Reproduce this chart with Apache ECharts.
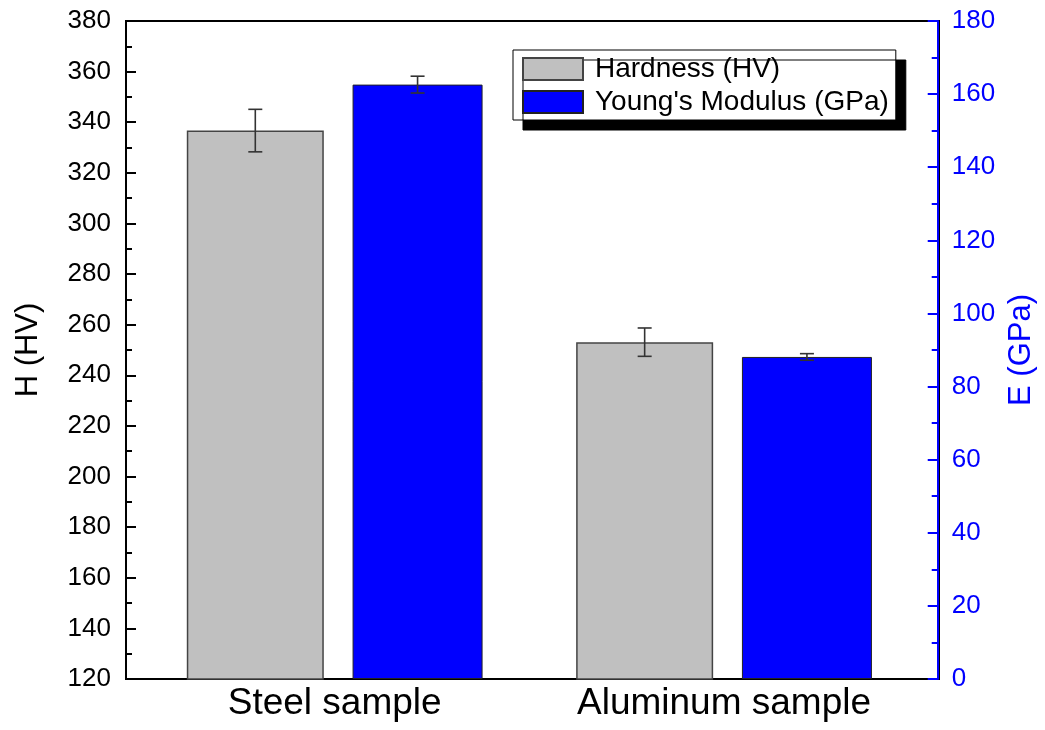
<!DOCTYPE html>
<html>
<head>
<meta charset="utf-8">
<script src="https://cdn.jsdelivr.net/npm/echarts@6/dist/echarts.min.js"></script>
<style>
  html, body { margin: 0; padding: 0; background: #fff; }
  #main { width: 1045px; height: 730px; }
</style>
</head>
<body>
<div id="main"></div>
<script>
const categories = ["Steel sample", "Aluminum sample"];
const hardness = [336.7, 253.1];
const hardnessErr = [8.4, 5.6];
const modulus = [162.6, 88.1];
const modulusErr = [2.3, 0.9];
const hTicks = { min: 120, max: 380, step: 20 };
const eTicks = { min: 0, max: 180, step: 20 };

const FONT = "Liberation Sans";
const W_GRAY = 137, W_BLUE = 130, GAP = 0.21;

// bar offsets inside one category band (same rule ECharts uses)
const groupW = W_GRAY * (1 + GAP) + W_BLUE;
const offGray = -groupW / 2 + W_GRAY / 2;
const offBlue = -groupW / 2 + W_GRAY * (1 + GAP) + W_BLUE / 2;

function errSeries(vals, errs, yIdx, off) {
    return {
        type: "custom",
        xAxisIndex: 0,
        yAxisIndex: yIdx,
        z: 4,
        data: vals.map((v, i) => [i, v - errs[i], v + errs[i]]),
        renderItem: function (params, api) {
            const lo = api.coord([api.value(0), api.value(1)]);
            const hi = api.coord([api.value(0), api.value(2)]);
            const x = lo[0] + off;
            const cap = 7;
            const st = { stroke: "#333", lineWidth: 1.6 };
            return {
                type: "group",
                children: [
                    { type: "line", shape: { x1: x, y1: lo[1], x2: x, y2: hi[1] }, style: st },
                    { type: "line", shape: { x1: x - cap, y1: lo[1], x2: x + cap, y2: lo[1] }, style: st },
                    { type: "line", shape: { x1: x - cap, y1: hi[1], x2: x + cap, y2: hi[1] }, style: st }
                ]
            };
        }
    };
}

function valueAxis(color, extra) {
    return Object.assign({
        type: "value",
        gridIndex: 0,
        z: 5,
        nameLocation: "middle",
        nameRotate: 90,
        nameTextStyle: { fontSize: 31, color: color, fontFamily: FONT },
        axisLine: { show: true, lineStyle: { color: color, width: 2 } },
        axisTick: { show: true, inside: true, length: 10, lineStyle: { color: color, width: 2 } },
        minorTick: { show: true, splitNumber: 2, length: 6, lineStyle: { color: color, width: 2 } },
        splitLine: { show: false },
        minorSplitLine: { show: false }
    }, extra);
}

const chart = echarts.init(document.getElementById("main"));

chart.setOption({
    backgroundColor: "#fff",
    animation: false,
    textStyle: { fontFamily: FONT },

    grid: [
        { left: 140, right: 125, top: 21, bottom: 51 },
        // frame box
        { left: 126, right: 106, top: 21, bottom: 51, show: true,
          borderColor: "#000", borderWidth: 2, backgroundColor: "transparent" }
    ],

    legend: {
        orient: "vertical",
        left: 513,
        top: 50,
        padding: [5, 7, 4, 9],
        itemGap: 5,
        itemWidth: 60,
        itemHeight: 22,
        icon: "rect",
        backgroundColor: "#fff",
        borderColor: "#000",
        borderWidth: 1,
        borderRadius: 0,
        shadowColor: "#000",
        shadowBlur: 0,
        shadowOffsetX: 10,
        shadowOffsetY: 10,
        textStyle: { fontSize: 28, color: "#000", fontFamily: FONT, padding: [0, 0, 0, 7] },
        data: ["Hardness (HV)", "Young's Modulus (GPa)"]
    },

    xAxis: [
        {
            type: "category",
            gridIndex: 0,
            data: categories,
            z: 5,
            axisLine: { show: false },
            axisTick: { show: false },
            axisLabel: { fontSize: 37, color: "#000", margin: 6, fontFamily: FONT }
        },
        { type: "value", gridIndex: 1, show: false }
    ],

    yAxis: [
        valueAxis("#000", {
            position: "left",
            offset: 14,
            min: hTicks.min,
            max: hTicks.max,
            interval: hTicks.step,
            name: "H (HV)",
            nameGap: 82,
            axisLabel: { fontSize: 26, color: "#000", margin: 15, fontFamily: FONT }
        }),
        valueAxis("#0000ff", {
            position: "right",
            offset: 19,
            min: eTicks.min,
            max: eTicks.max,
            interval: eTicks.step,
            name: "E (GPa)",
            nameGap: 68,
            axisLabel: { fontSize: 26, color: "#0000ff", margin: 14, fontFamily: FONT }
        }),
        { type: "value", gridIndex: 1, show: false }
    ],

    series: [
        {
            name: "Hardness (HV)",
            type: "bar",
            xAxisIndex: 0,
            yAxisIndex: 0,
            barWidth: W_GRAY,
            barGap: (GAP * 100) + "%",
            data: hardness,
            itemStyle: { color: "#c0c0c0", borderColor: "#444", borderWidth: 1.5 }
        },
        {
            name: "Young's Modulus (GPa)",
            type: "bar",
            xAxisIndex: 0,
            yAxisIndex: 1,
            barWidth: W_BLUE,
            barGap: (GAP * 100) + "%",
            data: modulus,
            itemStyle: { color: "#0000ff", borderColor: "#222", borderWidth: 1 }
        },
        errSeries(hardness, hardnessErr, 0, offGray),
        errSeries(modulus, modulusErr, 1, offBlue)
    ]
});
</script>
</body>
</html>
